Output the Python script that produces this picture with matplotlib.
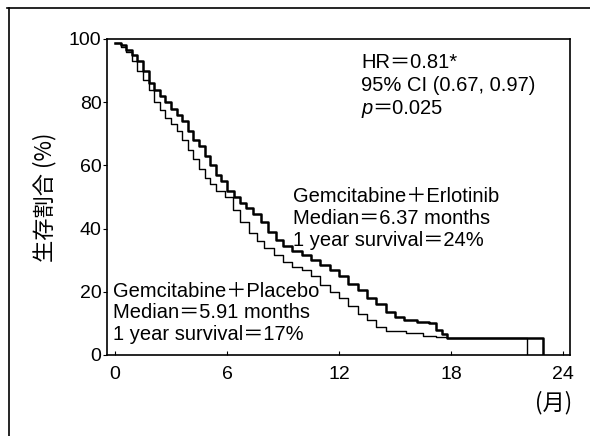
import matplotlib.pyplot as plt
from matplotlib.lines import Line2D

plt.rcParams['font.family'] = ['Liberation Sans', 'Noto Sans CJK JP']

# Kaplan-Meier curves (month, % surviving)
t_erlo = [0, 0.3, 0.6, 0.9, 1.2, 1.5, 1.8, 2.1, 2.4, 2.7, 3.0, 3.3, 3.6, 3.9,
          4.2, 4.5, 4.8, 5.1, 5.4, 5.7, 6.0, 6.37, 6.7, 7.0, 7.4, 7.8, 8.2,
          8.6, 9.0, 9.5, 10.0, 10.5, 11.0, 11.5, 12.0, 12.5, 13.0, 13.5, 14.0,
          14.5, 15.0, 15.5, 16.2, 16.8, 17.2, 17.5, 17.8, 22.9]
s_erlo = [98.8, 98, 96.5, 95, 93, 90, 86, 84, 82, 80, 78, 76, 74, 71,
          68, 66, 63, 60, 57, 55, 52, 50, 48, 46.5, 44.5, 42, 39,
          36.5, 34.5, 33, 31.5, 30, 28.5, 27, 25, 22.5, 20.5, 18, 16,
          13.5, 12, 11, 10.5, 10, 8, 6.5, 5.5, 0]

t_plac = [0, 0.3, 0.6, 0.9, 1.2, 1.5, 1.8, 2.1, 2.4, 2.7, 3.0, 3.3, 3.6, 3.9,
          4.2, 4.5, 4.8, 5.1, 5.4, 5.91, 6.3, 6.7, 7.2, 7.6, 8.0, 8.5, 9.0,
          9.5, 10.0, 10.5, 11.0, 11.5, 12.0, 12.5, 13.0, 13.5, 14.0, 14.5,
          15.6, 16.5, 17.2, 17.8, 22.07]
s_plac = [98.8, 97.5, 96, 93, 90, 87, 84, 80, 77.5, 75, 73, 71, 68, 65,
          62, 59, 56, 54, 52, 50, 46, 42, 38.5, 36, 34, 31.5, 29.5,
          28, 27, 25, 22, 20, 18, 15.5, 13, 11, 9, 7.5,
          7, 6, 5.8, 5.5, 0]

xticks = [0, 6, 12, 18, 24]
yticks = [0, 20, 40, 60, 80, 100]

erlo_lines = ['Gemcitabine＋Erlotinib', 'Median＝6.37 months', '1 year survival＝24%']
plac_lines = ['Gemcitabine＋Placebo', 'Median＝5.91 months', '1 year survival＝17%']

fig = plt.figure(figsize=(5.9, 4.36), dpi=100)
ax = fig.add_axes([0.1814, 0.1858, 0.7846, 0.7248])

ax.step(t_plac, s_plac, where='post', color='black', lw=1.0)
ax.step(t_erlo, s_erlo, where='post', color='black', lw=1.8)

ax.set_xlim(-0.43, 24.37)
ax.set_ylim(0, 100)
ax.set_xticks(xticks)
ax.set_yticks(yticks)
ax.tick_params(axis='x', direction='in', length=3, labelsize=14, pad=8)
ax.tick_params(axis='y', direction='out', length=3, labelsize=14, pad=1)
for sp in ax.spines.values():
    sp.set_linewidth(1.2)

fs = 14.5
# statistics block, top right
ax.text(13.2, 90.8, 'HR＝0.81*', fontsize=fs, va='baseline')
ax.text(13.2, 83.4, '95% CI (0.67, 0.97)', fontsize=fs, va='baseline')
p_txt = ax.text(13.2, 76.4, 'p', fontsize=fs, va='baseline', style='italic')
ax.annotate('＝0.025', xy=(1, 0), xycoords=p_txt, fontsize=fs,
            va='bottom', ha='left')

for y, s in zip([48.4, 41.6, 34.6], erlo_lines):
    ax.text(9.53, y, s, fontsize=fs, va='baseline')
for y, s in zip([18.4, 11.6, 4.7], plac_lines):
    ax.text(-0.11, y, s, fontsize=fs, va='baseline')

fig.text(0.076, 0.548, '生存割合 (%)', rotation=90, fontsize=16,
         ha='center', va='center', family='Noto Sans CJK JP')
fig.text(0.97, 0.076, '(月)', fontsize=16, ha='right', va='center',
         family='Noto Sans CJK JP')

# outer frame: top and left edges only
fig.add_artist(Line2D([0.012, 1.0], [0.981, 0.981], color='black', lw=1.2))
fig.add_artist(Line2D([0.016, 0.016], [0.0, 0.981], color='black', lw=1.2))

fig.savefig('out.png', dpi=100)
